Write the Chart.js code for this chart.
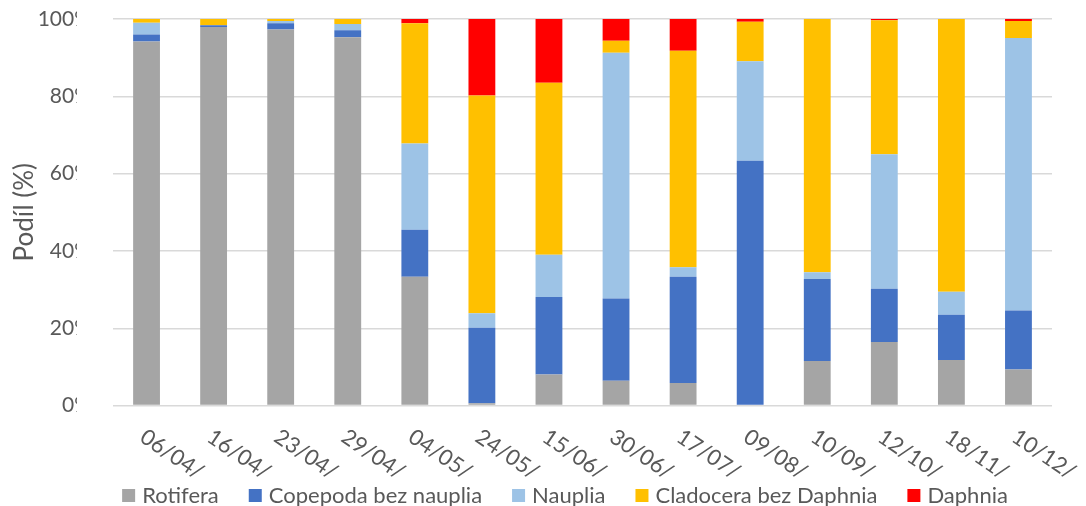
<!DOCTYPE html>
<html>
<head>
<meta charset="utf-8">
<script src="https://cdn.jsdelivr.net/npm/chart.js@4.4.1/dist/chart.umd.min.js"></script>
<style>
  html, body { margin: 0; padding: 0; background: #ffffff; }
  #wrap { width: 1086px; height: 506px; position: relative; }
</style>
</head>
<body>
<div id="wrap"><canvas id="chart" width="1086" height="506"></canvas></div>
<script>
// Sampling dates (sample labels as printed on the axis)
const categories = ['06/04/', '16/04/', '23/04/', '29/04/', '04/05/', '24/05/', '15/06/',
                    '30/06/', '17/07/', '09/08/', '10/09/', '12/10/', '18/11/', '10/12/'];

// Share of each zooplankton group in every sample (%)
const rotifera   = [94.2, 97.9, 97.3, 95.3, 33.3,  0.6,  8.0,  6.4,  5.8,  0.0, 11.5, 16.4, 11.8,  9.3];
const copepoda   = [ 1.8,  0.5,  1.6,  1.8, 12.2, 19.5, 20.1, 21.3, 27.5, 63.3, 21.2, 13.8, 11.7, 15.3];
const nauplia    = [ 3.0,  0.0,  0.6,  1.6, 22.3,  3.8, 10.9, 63.6,  2.5, 25.8,  1.8, 34.8,  5.9, 70.5];
const cladocera  = [ 1.0,  1.6,  0.5,  1.3, 31.1, 56.3, 44.5,  3.1, 56.0, 10.2, 65.5, 34.7, 70.6,  4.4];
const daphnia    = [ 0.0,  0.0,  0.0,  0.0,  1.1, 19.8, 16.5,  5.6,  8.2,  0.7,  0.0,  0.3,  0.0,  0.5];

const seriesNames = ['Rotifera', 'Copepoda bez nauplia', 'Nauplia', 'Cladocera bez Daphnia', 'Daphnia'];
const yTicks = [0, 20, 40, 60, 80, 100];

const COLORS = ['#A5A5A5', '#4472C4', '#9DC3E6', '#FFC000', '#FF0000'];
const TEXT = '#595959';
const GRID = '#D9D9D9';
const FONT = 'Lato, "Open Sans", sans-serif';

const seriesValues = [rotifera, copepoda, nauplia, cladocera, daphnia];

// Rotated date labels, reading downward to the right from each tick
const slantedLabels = {
  id: 'slantedLabels',
  afterDraw(chart) {
    const ctx = chart.ctx;
    const xs = chart.scales.x;
    ctx.save();
    ctx.font = '22px ' + FONT;
    ctx.fillStyle = TEXT;
    ctx.textAlign = 'left';
    ctx.textBaseline = 'top';
    categories.forEach((lab, i) => {
      const x = xs.getPixelForValue(i);
      ctx.save();
      ctx.translate(x + 2, chart.chartArea.bottom + 20);
      ctx.rotate(34 * Math.PI / 180);
      ctx.fillText(lab, 0, 0);
      ctx.restore();
    });
    ctx.restore();
  }
};

// Narrow label column: the axis text is cut off on its right side
const labelClip = {
  id: 'labelClip',
  afterDraw(chart) {
    const ctx = chart.ctx;
    ctx.save();
    ctx.fillStyle = '#ffffff';
    ctx.fillRect(77, 0, chart.chartArea.left - 77 - 2, chart.chartArea.bottom + 12);
    ctx.restore();
  }
};

// Legend row below the dates
const bottomLegend = {
  id: 'bottomLegend',
  afterDraw(chart) {
    const ctx = chart.ctx;
    ctx.save();
    ctx.font = '22px ' + FONT;
    ctx.textBaseline = 'middle';
    ctx.textAlign = 'left';
    const box = 13, gapText = 7, gapItem = 30;
    const widths = seriesNames.map(n => ctx.measureText(n).width);
    const total = widths.reduce((a, w) => a + box + gapText + w, 0) + gapItem * (seriesNames.length - 1);
    let x = 565 - total / 2;
    const cy = 495.5;
    seriesNames.forEach((n, i) => {
      ctx.fillStyle = COLORS[i];
      ctx.fillRect(x, cy - box / 2, box, box);
      ctx.fillStyle = TEXT;
      ctx.fillText(n, x + box + gapText, cy);
      x += box + gapText + widths[i] + gapItem;
    });
    ctx.restore();
  }
};

new Chart(document.getElementById('chart'), {
  type: 'bar',
  data: {
    labels: categories,
    datasets: seriesNames.map((name, i) => ({
      label: name,
      data: seriesValues[i],
      backgroundColor: COLORS[i],
      borderWidth: 0,
      barPercentage: 0.4,
      categoryPercentage: 1.0
    }))
  },
  options: {
    responsive: false,
    animation: false,
    layout: { padding: { left: 0, right: 34, top: 19, bottom: 0 } },
    plugins: {
      legend: { display: false },
      tooltip: { enabled: false }
    },
    scales: {
      x: {
        stacked: true,
        grid: { display: false },
        border: { display: false },
        ticks: { display: false },
        afterFit(scale) { scale.height = 100.5; scale.paddingLeft = 0; scale.paddingRight = 0; }
      },
      y: {
        stacked: true,
        min: 0,
        max: 100,
        afterBuildTicks(scale) { scale.ticks = yTicks.map(v => ({ value: v })); },
        grid: { color: GRID, lineWidth: 1.4, drawTicks: false },
        border: { display: false },
        ticks: {
          color: TEXT,
          font: { family: FONT, size: 21 },
          padding: 22,
          callback: v => v + '%'
        },
        title: {
          display: true,
          text: 'Podíl (%)',
          color: TEXT,
          font: { family: FONT, size: 26 },
          padding: { top: 9, bottom: 0 }
        },
        afterFit(scale) { scale.width = 113; scale.paddingTop = 0; scale.paddingBottom = 0; }
      }
    }
  },
  plugins: [slantedLabels, labelClip, bottomLegend]
});
</script>
</body>
</html>
